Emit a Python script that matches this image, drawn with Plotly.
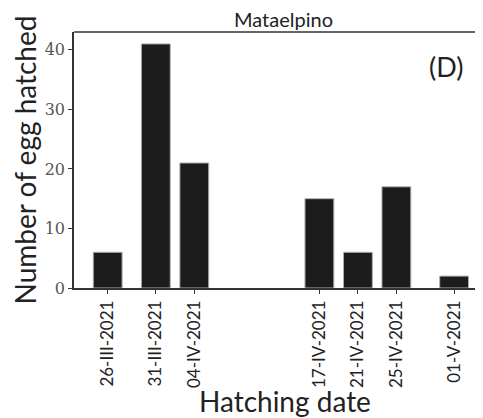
import plotly.graph_objects as go

dates = ["2021-03-26", "2021-03-31", "2021-04-04", "2021-04-17", "2021-04-21", "2021-04-25", "2021-05-01"]
tick_labels = ["26-III-2021", "31-III-2021", "04-IV-2021", "17-IV-2021", "21-IV-2021", "25-IV-2021", "01-V-2021"]
eggs = [6, 41, 21, 15, 6, 17, 2]

sans = "Lato, 'Open Sans', sans-serif"
serif = "'DejaVu Serif', serif"

fig = go.Figure(go.Bar(
    x=dates, y=eggs,
    width=3 * 86400000,
    marker=dict(color="#1c1c1c", line=dict(color="#b0b0b0", width=1)),
))

# page body has an 8px default margin, so the figure is sized 8px smaller
fig.update_layout(
    width=475, height=410,
    margin=dict(l=66, r=0, t=24, b=130, autoexpand=False),
    plot_bgcolor="white", paper_bgcolor="white",
    showlegend=False,
    annotations=[
        dict(text="Mataelpino", xref="paper", yref="paper", x=0.513, y=1.0,
             xanchor="center", yanchor="bottom", yshift=-1, showarrow=False,
             font=dict(family=sans, size=20, color="#222")),
        dict(text="(D)", xref="paper", yref="paper", x=0.91, y=0.867,
             xanchor="center", yanchor="middle", showarrow=False,
             font=dict(family=sans, size=27, color="#222")),
        dict(text="Hatching date", xref="paper", yref="paper", x=0.516, y=-0.44,
             xanchor="center", yanchor="middle", showarrow=False,
             font=dict(family=sans, size=28, color="#222")),
    ],
)

fig.update_xaxes(
    type="date", automargin=False,
    range=["2021-03-22 12:00", "2021-05-04"],
    tickvals=dates, ticktext=tick_labels, tickangle=-90,
    tickfont=dict(family=sans, size=17, color="#222"),
    ticks="outside", ticklen=4, tickcolor="#333",
    showline=True, linecolor="#333", linewidth=1.5, mirror=False,
    showgrid=False, zeroline=False,
)
fig.update_yaxes(
    range=[0, 43], automargin=False,
    tickvals=[0, 10, 20, 30, 40],
    tickfont=dict(family=serif, size=16, color="#555"),
    ticks="outside", ticklen=4, tickcolor="#333",
    showline=True, linecolor="#333", linewidth=1.5,
    showgrid=False, zeroline=False,
    title=dict(text="Number of egg hatched", font=dict(family=sans, size=28, color="#222"), standoff=3),
)

# top spine
fig.add_shape(type="line", xref="paper", yref="paper", x0=0, x1=1, y0=1, y1=1,
              line=dict(color="#333", width=1.5))

fig.write_html("out.html")
